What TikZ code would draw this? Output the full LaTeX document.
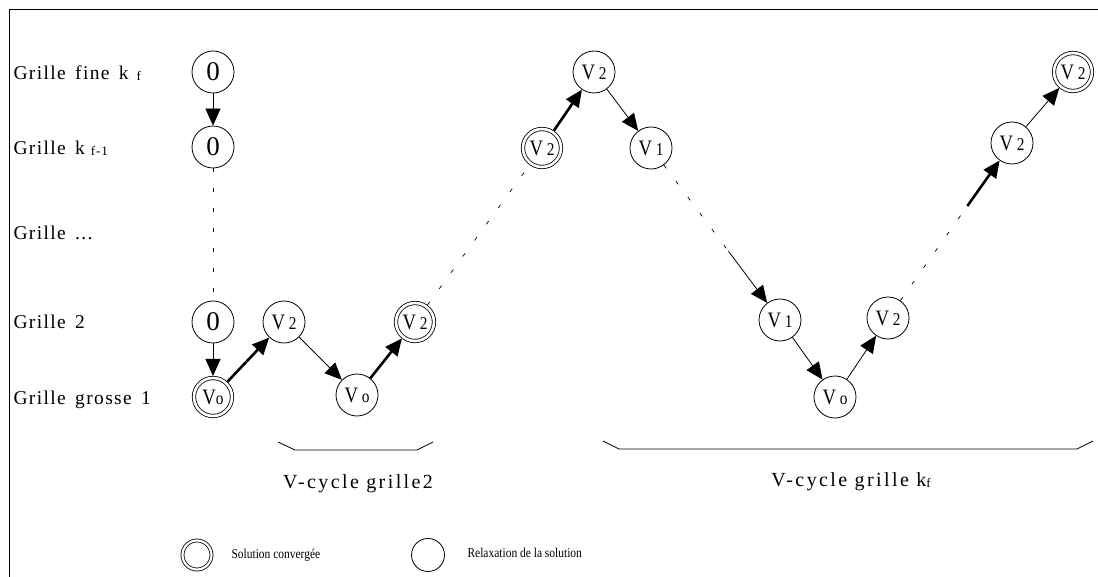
\documentclass[tikz,border=0pt]{standalone}
\usepackage{fontspec}
\setmainfont{Liberation Serif}
\newfontfamily\gridfont[LetterSpace=7, WordSpace=1.5]{Liberation Serif}
\newfontfamily\cyclefont[LetterSpace=12]{Liberation Serif}
\newfontfamily\legfont[FakeStretch=0.85]{Liberation Serif}
\newfontfamily\noeudfont[FakeStretch=0.85]{Liberation Serif}
\usepackage{tikz}
\usetikzlibrary{arrows.meta, calc}

\newcommand{\petit}[1]{{\fontsize{18}{18}\selectfont #1}}
\newcommand{\indice}[1]{\raisebox{-1pt}{\fontsize{13}{13}\selectfont #1}}

\tikzset{
	relax/.style={circle, draw, line width=0.8pt, minimum size=42pt, inner sep=0pt, font=\noeudfont\fontsize{22}{22}\selectfont},
	zero/.style={relax, font=\fontsize{27}{27}\selectfont},
	conv/.style={relax, double, double distance=2.6pt, minimum size=38pt, outer sep=2pt},
	fin/.style={-{Triangle[length=17pt, width=15pt]}, line width=0.8pt},
	gros/.style={fin, line width=2.6pt},
	pointille/.style={line width=0.7pt, dash pattern=on 4pt off 16pt},
	grille/.style={anchor=base west, font=\gridfont\fontsize{19.5}{19.5}\selectfont},
	cycle/.style={font=\cyclefont\fontsize{20}{20}\selectfont},
	legende/.style={anchor=west, font=\legfont\fontsize{13.5}{13.5}\selectfont}
}

\begin{document}
\begin{tikzpicture}[x=1pt, y=-1pt]
	\useasboundingbox (0, 0) rectangle (1098, 577);
	% Frame:
	\draw[line width=0.8pt] (1098, 9) -- (9, 9) -- (9, 577);
	% Grid labels:
	\node[grille] (g1) at (10, 80){Grille fine k\kern8pt\indice{f}};
	\node[grille] (g2) at (10, 155){Grille k\kern6pt\indice{f-1}};
	\node[grille] (g3) at (10, 240){Grille ...};
	\node[grille] (g4) at (10, 329){Grille 2};
	\node[grille] (g5) at (10, 404){Grille grosse 1};
	% Nodes:
	\node[zero] (z1) at (213, 72){0};
	\node[zero] (z2) at (213, 147){0};
	\node[zero] (z3) at (213, 322){0};
	\node[conv] (a1) at (213, 397){V\petit{o}};
	\node[relax] (a2) at (284, 322){V\,\petit{2}};
	\node[relax] (a3) at (357, 395){V\,\petit{o}};
	\node[conv] (a4) at (415, 322){V\,\petit{2}};
	\node[conv] (b1) at (542, 148){V\,\petit{2}};
	\node[relax] (b2) at (594, 72){V\,\petit{2}};
	\node[relax] (b3) at (651, 148){V\,\petit{1}};
	\node[relax] (c1) at (780, 320){V\,\petit{1}};
	\node[relax] (c2) at (835, 397){V\,\petit{o}};
	\node[relax] (c3) at (888, 318){V\,\petit{2}};
	\node[relax] (d1) at (1012, 143){V\,\petit{2}};
	\node[conv] (d2) at (1073, 72){V\,\petit{2}};
	\coordinate (m1) at ($(b3)!0.6!(c1)$);
	\coordinate (m2) at ($(c3)!0.64!(d1)$);
	% Connectors:
	\draw[fin] (z1) -- (z2);
	\draw[pointille] (z2) -- (z3);
	\draw[fin] (z3) -- (a1);
	\draw[gros] (a1) -- (a2);
	\draw[fin] (a2) -- (a3);
	\draw[gros] (a3) -- (a4);
	\draw[pointille] (a4) -- (b1);
	\draw[gros] (b1) -- (b2);
	\draw[fin] (b2) -- (b3);
	\draw[pointille] (b3) -- (m1);
	\draw[fin] (m1) -- (c1);
	\draw[fin] (c1) -- (c2);
	\draw[fin] (c2) -- (c3);
	\draw[pointille] (c3) -- (m2);
	\draw[gros] (m2) -- (d1);
	\draw[fin] (d1) -- (d2);
	% Cycle brackets:
	\draw[line width=0.8pt] (278, 442) -- (295, 450) -- (417, 450) -- (433, 442);
	\draw[line width=0.8pt] (603, 441) -- (619, 449) -- (1077, 449) -- (1093, 441);
	\node[cycle] (v2) at (358, 484){V-cycle grille2};
	\node[cycle] (vf) at (851, 482){V-cycle grille k\indice{f}};
	% Legend:
	\node[circle, draw, line width=0.8pt, double, double distance=2.2pt, minimum size=29pt] (l1) at (197, 555){};
	\node[legende] (t1) at (228, 555){Solution convergée};
	\node[circle, draw, line width=0.8pt, minimum size=33pt] (l2) at (428, 555){};
	\node[legende] (t2) at (464, 553){Relaxation de la solution};
\end{tikzpicture}
\end{document}
